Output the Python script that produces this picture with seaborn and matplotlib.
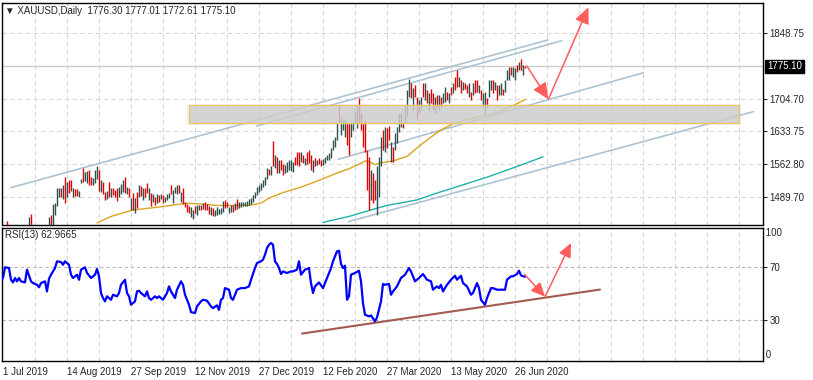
import matplotlib
matplotlib.use('Agg')
import matplotlib.pyplot as plt
import matplotlib.transforms as mtransforms
from matplotlib.patches import Rectangle
import seaborn as sns

# ---- data (daily XAUUSD bars, index 0 = 1 Jul 2019) ----
highs = [1412, 1421, 1425, 1439, 1420, 1418, 1415, 1420, 1418, 1425,
         1428, 1426, 1422, 1430, 1446, 1453, 1428, 1427, 1430, 1429,
         1425, 1424, 1428, 1430, 1446, 1451, 1475, 1477, 1509, 1509,
         1509, 1517, 1533, 1523, 1527, 1528, 1509, 1508, 1508, 1504,
         1529, 1554, 1544, 1548, 1549, 1535, 1531, 1549, 1558, 1549,
         1528, 1523, 1502, 1504, 1524, 1509, 1511, 1506, 1509, 1513,
         1519, 1528, 1535, 1513, 1509, 1488, 1499, 1488, 1502, 1517,
         1515, 1511, 1511, 1520, 1510, 1500, 1497, 1491, 1497, 1495,
         1497, 1495, 1491, 1497, 1500, 1517, 1506, 1513, 1516, 1517,
         1502, 1511, 1480, 1475, 1471, 1468, 1462, 1471, 1473, 1473,
         1473, 1477, 1480, 1475, 1471, 1468, 1466, 1462, 1468, 1464,
         1467, 1482, 1484, 1480, 1468, 1473, 1473, 1478, 1486, 1480,
         1480, 1480, 1480, 1482, 1486, 1488, 1495, 1502, 1513, 1517,
         1520, 1528, 1533, 1553, 1552, 1557, 1613, 1582, 1578, 1571,
         1570, 1562, 1560, 1567, 1571, 1571, 1567, 1578, 1588, 1589,
         1589, 1582, 1575, 1589, 1593, 1582, 1571, 1575, 1571, 1575,
         1571, 1573, 1578, 1582, 1586, 1597, 1615, 1622, 1651, 1691,
         1662, 1658, 1660, 1651, 1651, 1651, 1655, 1676, 1691, 1706,
         1673, 1652, 1658, 1593, 1578, 1549, 1542, 1528, 1557, 1578,
         1622, 1637, 1644, 1640, 1645, 1611, 1600, 1630, 1644, 1673,
         1673, 1655, 1691, 1724, 1748, 1738, 1728, 1735, 1709, 1702,
         1709, 1738, 1738, 1724, 1717, 1727, 1717, 1709, 1713, 1713,
         1709, 1717, 1731, 1720, 1717, 1731, 1738, 1753, 1767, 1753,
         1746, 1742, 1738, 1735, 1738, 1720, 1738, 1746, 1746, 1735,
         1724, 1717, 1720, 1706, 1746, 1746, 1746, 1742, 1735, 1735,
         1738, 1727, 1746, 1767, 1775, 1775, 1775, 1771, 1778, 1785,
         1791, 1778, 1777.01]
lows = [1385, 1405, 1412, 1415, 1400, 1395, 1398, 1404, 1402, 1408,
        1410, 1408, 1405, 1412, 1415, 1420, 1410, 1412, 1415, 1414,
        1410, 1412, 1414, 1416, 1420, 1410, 1430, 1451, 1471, 1491,
        1491, 1486, 1478, 1490, 1499, 1504, 1491, 1493, 1492, 1491,
        1520, 1523, 1526, 1522, 1517, 1516, 1517, 1522, 1529, 1504,
        1502, 1497, 1484, 1486, 1491, 1491, 1495, 1491, 1482, 1490,
        1497, 1502, 1500, 1497, 1491, 1462, 1462, 1456, 1466, 1491,
        1493, 1484, 1490, 1500, 1484, 1471, 1480, 1473, 1478, 1480,
        1486, 1477, 1480, 1484, 1488, 1497, 1478, 1500, 1497, 1499,
        1480, 1475, 1468, 1458, 1455, 1446, 1443, 1455, 1451, 1462,
        1462, 1464, 1462, 1461, 1453, 1451, 1448, 1450, 1451, 1453,
        1453, 1458, 1466, 1468, 1456, 1458, 1458, 1462, 1464, 1466,
        1468, 1471, 1471, 1471, 1473, 1475, 1480, 1488, 1495, 1502,
        1506, 1512, 1517, 1529, 1539, 1539, 1557, 1553, 1542, 1542,
        1549, 1539, 1542, 1546, 1549, 1548, 1546, 1560, 1560, 1558,
        1567, 1564, 1560, 1562, 1564, 1549, 1546, 1558, 1560, 1562,
        1557, 1560, 1565, 1571, 1571, 1575, 1593, 1600, 1615, 1651,
        1626, 1637, 1622, 1604, 1582, 1622, 1637, 1651, 1640, 1651,
        1637, 1600, 1589, 1506, 1462, 1484, 1477, 1484, 1451, 1491,
        1557, 1593, 1589, 1597, 1615, 1567, 1567, 1593, 1608, 1633,
        1644, 1640, 1651, 1666, 1709, 1706, 1680, 1709, 1660, 1673,
        1680, 1709, 1702, 1695, 1680, 1695, 1680, 1673, 1687, 1680,
        1687, 1695, 1698, 1702, 1695, 1713, 1717, 1724, 1731, 1731,
        1717, 1724, 1727, 1717, 1709, 1702, 1713, 1717, 1720, 1717,
        1702, 1687, 1669, 1687, 1709, 1724, 1717, 1724, 1702, 1713,
        1713, 1713, 1720, 1746, 1746, 1757, 1753, 1746, 1764, 1767,
        1767, 1757, 1772.61]
# u = bull bar, d = bear bar
bar_dir = ("duuddduudu uduuudduud duududuuuu dududduddu uduudduuud "
           "uddududddu uududududu duddududud uduuuduuud udddduuduu "
           "duddduduuu uudduududu uuuuuuuuuu uuuudududu dduuuuuddd "
           "ududddudud duuuuuuuud uuudduuuud dddddudduu ududduduuu "
           "uduuududdu udududdudu duudududdu duddududdu duuduududu "
           "uduuuduudu dud").replace(" ", "")

ma_fast_idx = [48, 55, 66, 80, 93, 100, 108, 124, 130, 134, 141, 150, 158, 167, 174,
               179, 182, 184, 187, 190, 196, 203, 211, 220, 227, 238, 245, 251, 258, 262]
ma_fast = [1434, 1448, 1462, 1469, 1477, 1475, 1472, 1472, 1477, 1488, 1500, 1512, 1525, 1541, 1552,
           1562, 1569, 1568, 1561, 1565, 1569, 1579, 1608, 1637, 1652, 1665, 1670, 1680, 1694, 1703]
ma_slow_idx = [161, 174, 188, 194, 203, 208, 218, 231, 244, 258, 271]
ma_slow = [1435, 1448, 1466, 1473, 1480, 1484, 1499, 1517, 1535, 1557, 1578]

rsi_idx = [0, 1, 2, 4, 5, 6, 7, 8, 9, 10, 12, 13, 15, 16, 18, 19, 20, 22, 23, 24, 25, 27, 28, 30, 31,
           32, 34, 35, 36, 38, 39, 40, 42, 43, 45, 47, 48, 49, 50, 51, 52, 53, 55, 56, 58, 59, 60,
           62, 63, 64, 65, 67, 68, 69, 70, 72, 73, 74, 75, 77, 78, 79, 81, 83, 84, 85, 87, 88, 90,
           91, 92, 93, 94, 95, 97, 98, 100, 101, 103, 105, 106, 108, 109, 110, 111, 112, 114, 115,
           116, 118, 120, 122, 124, 125, 127, 128, 130, 131, 132, 133, 134, 135, 136, 137, 138, 139,
           140, 141, 143, 145, 146, 148, 149, 150, 152, 154, 155, 156, 157, 159, 161, 163, 165, 166,
           168, 169, 170, 171, 172, 173, 174, 175, 177, 179, 180, 181, 182, 184, 185, 187, 188, 190,
           191, 192, 194, 195, 196, 198, 200, 202, 204, 205, 207, 209, 211, 213, 215, 216, 218, 219,
           220, 221, 223, 225, 227, 228, 230, 231, 233, 235, 236, 238, 239, 240, 242, 243, 245, 246,
           248, 250, 252, 253, 255, 256, 258, 259, 260, 261, 262]
rsi_vals = [60.0, 61.9, 70.0, 69.4, 60.6, 58.6, 61.9, 59.4, 61.9, 59.4, 58.6, 68.2, 59.4, 58.1, 56.8,
            54.9, 58.1, 59.4, 51.8, 61.4, 64.4, 69.4, 74.5, 74.0, 71.9, 74.5, 71.9, 64.4, 61.9, 64.4,
            60.6, 68.2, 70.0, 65.8, 61.9, 64.4, 68.7, 63.2, 50.6, 46.8, 44.3, 48.1, 45.5, 49.3, 48.1,
            50.6, 56.8, 60.6, 50.6, 48.1, 41.8, 44.3, 51.8, 52.3, 50.6, 48.1, 51.8, 46.8, 45.5, 48.1,
            46.8, 48.1, 45.5, 50.6, 55.6, 51.8, 46.8, 53.1, 59.4, 56.8, 49.3, 45.5, 41.8, 36.2, 35.5,
            40.5, 44.3, 45.5, 44.8, 40.5, 39.2, 41.3, 37.9, 45.5, 46.8, 54.3, 53.1, 46.8, 45.5, 53.1,
            54.3, 54.3, 55.6, 60.6, 69.4, 73.2, 74.5, 75.7, 79.5, 84.5, 87.0, 88.3, 87.0, 74.5, 72.5,
            69.4, 64.9, 66.9, 65.7, 66.9, 66.9, 68.2, 74.5, 64.4, 68.2, 69.4, 58.1, 50.6, 55.6, 58.6,
            54.3, 61.9, 69.4, 74.5, 82.0, 82.5, 72.5, 69.4, 71.2, 45.5, 48.1, 64.4, 65.7, 67.4, 59.4,
            43.0, 34.2, 33.0, 33.7, 29.2, 32.2, 44.3, 57.4, 56.8, 57.4, 49.3, 51.8, 55.6, 61.9, 64.4,
            69.4, 66.9, 59.4, 61.9, 64.9, 60.6, 59.4, 53.1, 55.6, 54.3, 56.8, 51.8, 56.8, 60.6, 63.6,
            60.6, 63.6, 58.1, 55.6, 49.3, 50.6, 58.1, 54.3, 45.5, 41.7, 46.8, 54.3, 54.3, 53.1, 53.1,
            53.1, 60.6, 63.2, 63.2, 64.9, 67.4, 63.9, 63.2, 62.97]

# drawn objects: channel lines, support zone, projection arrows
channel_lines = [((5.0, 1510.8), (273.4, 1832.8)),
                 ((127.9, 1645.3), (280.4, 1831.3)),
                 ((168.7, 1572.7), (321.2, 1761.5)),
                 ((173.7, 1436.7), (376.2, 1676.5))]
zone_idx = (94.2, 369.0)
zone_price = (1651.2, 1690.0)
price_path = [(262.9, 1776.1), (273.7, 1703.5), (293.7, 1904.0)]
rsi_trend = ((150.5, 20.0), (299.5, 53.2))
rsi_path = [(261.7, 64.7), (272.0, 47.8), (285.0, 88.3)]

last_price = 1775.10
price_ticks = [1848.75, 1704.70, 1633.75, 1562.80, 1489.70]
date_idx = [1, 33, 65, 97, 129, 161, 193, 225, 257]
date_labels = ['1 Jul 2019', '14 Aug 2019', '27 Sep 2019', '12 Nov 2019', '27 Dec 2019',
               '12 Feb 2020', '27 Mar 2020', '13 May 2020', '26 Jun 2020']
grid_idx = [1 + 16 * k for k in range(1, 24)]

# ---- figure ----
sns.set_style('white')
plt.rcParams['font.family'] = ['Liberation Sans', 'DejaVu Sans']
plt.rcParams['font.size'] = 7

W, H = 813, 380
fig = plt.figure(figsize=(W / 100, H / 100), dpi=100)


def px_axes(l, t, r, b):
    return fig.add_axes([l / W, 1 - b / H, (r - l) / W, (b - t) / H])


ax = px_axes(1.5, 2.7, 762.5, 224.5)
ax2 = px_axes(1.5, 227.5, 762.5, 360.5)

grid_kw = dict(color='#d6d6d6', lw=0.8, ls=(0, (4, 3)), zorder=0)
for a in (ax, ax2):
    a.set_xlim(0.25, 380.75)
    for g in grid_idx:
        a.axvline(g, **grid_kw)
    for s in a.spines.values():
        s.set_color('black')
        s.set_linewidth(1.0)

# main price panel
ax.set_ylim(1430.4, 1914.2)
for p in price_ticks:
    ax.axhline(p, **grid_kw)
ax.axhline(last_price, color='#cccccc', lw=1.0, zorder=1)

for (x0, y0), (x1, y1) in channel_lines:
    ax.plot([x0, x1], [y0, y1], color='#adc3d3', lw=1.2, zorder=2)

sns.lineplot(x=ma_fast_idx, y=ma_fast, ax=ax, color='#daa520', lw=1.0, zorder=3)
sns.lineplot(x=ma_slow_idx, y=ma_slow, ax=ax, color='#20b2aa', lw=1.0, zorder=3)

bar_colors = ['#2f4f4f' if d == 'u' else '#e00000' for d in bar_dir]
ax.vlines(range(len(highs)), lows, highs, colors=bar_colors, lw=1.0, zorder=4)

zw = zone_idx[1] - zone_idx[0]
zh = zone_price[1] - zone_price[0]
ax.add_patch(Rectangle((zone_idx[0] - 1, zone_price[0] - 4), zw + 2, zh + 8,
                       facecolor='#d0d0d0', alpha=0.25, lw=0, zorder=5))
ax.add_patch(Rectangle((zone_idx[0], zone_price[0]), zw, zh,
                       facecolor='#cdcdcd', alpha=0.8, lw=0, zorder=5))
ax.add_patch(Rectangle((zone_idx[0], zone_price[0]), zw, zh,
                       fill=False, edgecolor='#eec35c', lw=0.9, zorder=5))

arrow_kw = dict(arrowstyle='-|>,head_length=0.7,head_width=0.32', color='#ff5c5c',
                lw=1.1, shrinkA=0, shrinkB=0, mutation_scale=14)
for a_from, a_to in zip(price_path[:-1], price_path[1:]):
    ax.annotate('', xy=a_to, xytext=a_from, arrowprops=arrow_kw, zorder=6)

ax.set_xticks([])
ax.yaxis.tick_right()
ax.set_yticks(price_ticks, labels=[f'{p:.2f}' for p in price_ticks])
ax.tick_params(axis='y', direction='out', length=3, width=0.8, pad=2, labelsize=7)
ax.annotate(f'{last_price:.2f}', xy=(1, last_price), xycoords=('axes fraction', 'data'),
            xytext=(3.3, 0), textcoords='offset points', va='center', ha='left',
            color='white', fontsize=7, annotation_clip=False,
            bbox=dict(boxstyle='square,pad=0.2', fc='black', ec='black'))

# RSI panel
ax2.set_ylim(-0.3, 100)
for lvl in (70, 30):
    ax2.axhline(lvl, color='#b8b8b8', lw=0.8, ls=(0, (3, 2.5)), zorder=0)
ax2.plot([rsi_trend[0][0], rsi_trend[1][0]], [rsi_trend[0][1], rsi_trend[1][1]],
         color='#a35a52', lw=1.5, zorder=2)
sns.lineplot(x=rsi_idx, y=rsi_vals, ax=ax2, color='#0000ff', lw=1.6, zorder=3)
for a_from, a_to in zip(rsi_path[:-1], rsi_path[1:]):
    ax2.annotate('', xy=a_to, xytext=a_from,
                 arrowprops=dict(arrow_kw, mutation_scale=12), zorder=6)

ax2.yaxis.tick_right()
ax2.set_yticks([70, 30], labels=['70', '30'])
ax2.tick_params(axis='y', direction='out', length=3, width=0.8, pad=2, labelsize=7)
trans = mtransforms.blended_transform_factory(ax2.transAxes, ax2.transData)
ax2.text(1.0, 100, ' 100', transform=trans, va='top', ha='left', fontsize=7)
ax2.text(1.0, 0, ' 0', transform=trans, va='bottom', ha='left', fontsize=7)

ax2.set_xticks(date_idx, labels=date_labels)
ax2.tick_params(axis='x', direction='out', length=3, width=0.8, pad=2, labelsize=7)
for lab in ax2.get_xticklabels():
    lab.set_horizontalalignment('left')
ax2.set_xlabel('')
ax2.set_ylabel('')
ax.set_xlabel('')
ax.set_ylabel('')

fig.text(5 / W, 1 - 11 / H, '\u25bc XAUUSD,Daily  1776.30 1777.01 1772.61 1775.10',
         fontsize=7, va='center', ha='left')
fig.text(5 / W, 1 - 235 / H, 'RSI(13) 62.9665', fontsize=7, va='center', ha='left')

fig.savefig('out.png', dpi=100)
